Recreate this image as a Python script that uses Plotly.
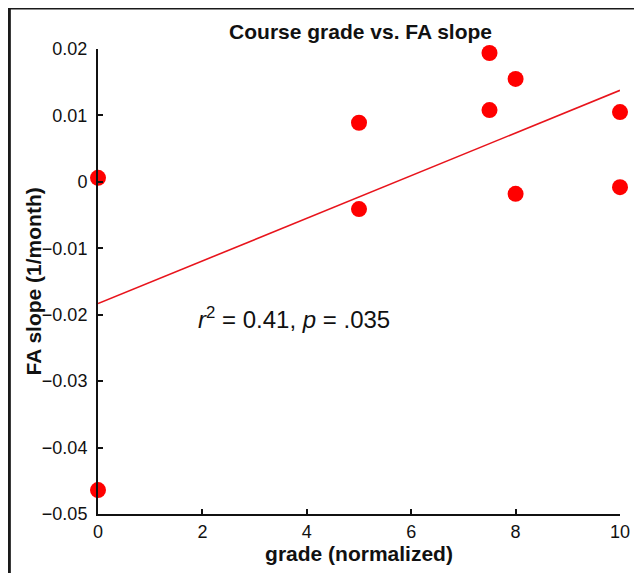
import numpy as np
import plotly.graph_objects as go

# Data
grade = [0, 0, 5, 5, 7.5, 7.5, 8, 8, 10, 10]
fa_slope = [0.0006, -0.0464, 0.0089, -0.0041, 0.0194, 0.0108, 0.0155, -0.0018, 0.0105, -0.0008]
x_ticks = [0, 2, 4, 6, 8, 10]
y_ticks = [0.02, 0.01, 0, -0.01, -0.02, -0.03, -0.04, -0.05]
y_tick_labels = ["0.02", "0.01", "0", "−0.01", "−0.02", "−0.03", "−0.04", "−0.05"]

# Linear fit
coef = np.polyfit(grade, fa_slope, 1)
fit_x = [0, 10]
fit_y = list(np.polyval(coef, fit_x))

FONT = "Liberation Sans, Arial, sans-serif"

fig = go.Figure()
fig.add_trace(go.Scatter(x=fit_x, y=fit_y, mode="lines",
                         line=dict(color="#e8141c", width=1.6),
                         hoverinfo="skip", cliponaxis=False))
fig.add_trace(go.Scatter(x=grade, y=fa_slope, mode="markers",
                         marker=dict(color="#ff0000", size=16, line=dict(width=0)),
                         cliponaxis=False))

# page has 8px body margin
W, H = 634, 565
L, T = 90, 41
PW, PH = 530, 465
R = W - L - PW
B = H - T - PH

# frame border (top and left)
bx = (0 - L) / PW
by = 1 + (T - 0) / PH
fig.add_shape(type="line", xref="paper", yref="paper", x0=bx, x1=bx, y0=-0.3, y1=by,
              line=dict(color="#1a1a1a", width=3))
fig.add_shape(type="line", xref="paper", yref="paper", x0=bx, x1=1.2, y0=by, y1=by,
              line=dict(color="#1a1a1a", width=3))

fig.add_annotation(x=3.75, y=-0.0205, xref="x", yref="y",
                   text="<i>r</i><sup>2</sup> = 0.41, <i>p</i> = .035",
                   showarrow=False, font=dict(family=FONT, size=24, color="#111"))

# y-axis title placed right against the tick labels
fig.add_annotation(x=(25 - L) / PW, y=0.5, xref="paper", yref="paper",
                   xanchor="center", yanchor="middle", textangle=-90,
                   text="<b>FA slope (1/month)</b>", showarrow=False,
                   font=dict(family=FONT, size=21, color="#111"))

fig.update_layout(
    width=W, height=H,
    margin=dict(l=L, r=R, t=T, b=B),
    paper_bgcolor="white", plot_bgcolor="white",
    showlegend=False,
    font=dict(family=FONT, color="#111"),
    title=dict(text="<b>Course grade vs. FA slope</b>", x=0.503, xref="paper",
               y=1 - 24 / H, yref="container", yanchor="middle",
               font=dict(family=FONT, size=21, color="#111")),
    xaxis=dict(range=[0, 10], tickvals=x_ticks, ticks="inside", ticklen=5,
               tickwidth=1.5, tickcolor="#111",
               showline=True, linecolor="#111", linewidth=2, showgrid=False,
               zeroline=False, tickfont=dict(family=FONT, size=18, color="#111"),
               title=dict(text="<b>grade (normalized)</b>", standoff=2,
                          font=dict(family=FONT, size=21, color="#111"))),
    yaxis=dict(range=[-0.05, 0.02], tickvals=y_ticks, ticktext=y_tick_labels,
               ticks="inside", ticklen=5, tickwidth=1.5, tickcolor="#111",
               ticklabelstandoff=5,
               showline=True, linecolor="#111", linewidth=2, showgrid=False,
               zeroline=False, tickfont=dict(family=FONT, size=18, color="#111")),
)

fig.write_html("out.html")
